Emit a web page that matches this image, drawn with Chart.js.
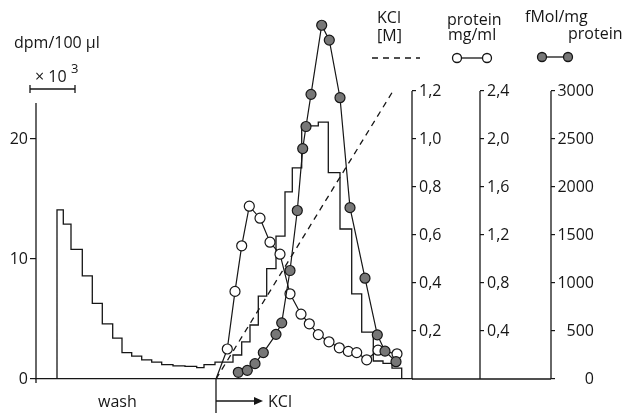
<!DOCTYPE html>
<html>
<head>
<meta charset="utf-8">
<script src="https://cdn.jsdelivr.net/npm/chart.js@4.4.1/dist/chart.umd.min.js"></script>
<style>
  html, body { margin: 0; padding: 0; background: #fff; }
  canvas { display: block; }
</style>
</head>
<body>
<canvas id="chart" width="634" height="413"></canvas>
<script>
// x = position along the elution, one unit ~ one fraction
const kclStart = 18.0;

// dpm/100 ul (x 10^3), step histogram: left edge of each fraction, value
const dpmX = [2.1, 2.1, 2.73, 3.5, 4.63, 5.63, 6.63, 7.67, 8.6, 9.57, 10.57, 11.57, 12.57, 13.7, 14.9, 16.07, 16.8, 17.9,
  19.7, 20.57, 21.4, 22.23, 23.07, 24.0, 24.9, 25.63, 26.57, 28.23, 29.23, 30.4, 31.57, 32.57, 33.73, 34.7, 35.6, 36.57];
const dpmY = [0, 14.1, 12.9, 10.8, 8.6, 6.3, 4.6, 3.4, 2.2, 1.9, 1.6, 1.4, 1.2, 1.1, 1.05, 0.95, 1.2, 1.4,
  2.0, 3.1, 4.5, 6.9, 9.2, 11.9, 15.6, 17.6, 21.1, 21.4, 17.2, 12.5, 7.1, 3.9, 1.5, 1.3, 0.9, 0];

// protein mg/ml (open circles)
const proteinX = [18.0, 19.13, 19.9, 20.57, 21.33, 22.4, 23.4, 24.4, 25.4, 26.5, 27.33, 28.23, 29.3, 30.33, 31.23, 32.07, 33.07, 34.2, 36.1];
const proteinY = [0, 0.25, 0.73, 1.11, 1.44, 1.34, 1.14, 1.04, 0.71, 0.54, 0.46, 0.37, 0.31, 0.26, 0.23, 0.22, 0.16, 0.24, 0.21];

// fMol/mg protein (filled circles)
const fmolX = [20.23, 21.13, 21.9, 22.73, 24.0, 24.57, 25.4, 26.13, 26.67, 27.0, 27.5, 28.57, 29.33, 30.4, 31.4, 32.9, 34.13, 34.9, 36.0];
const fmolY = [70, 90, 160, 275, 465, 585, 1130, 1755, 2400, 2630, 2965, 3685, 3530, 2930, 1785, 1050, 460, 290, 180];

// KCl gradient [M]
const kclX = [kclStart, 35.7];
const kclY = [0, 1.2];

const dpmTicks = [0, 10, 20];
const kclTicks = [0.2, 0.4, 0.6, 0.8, 1.0, 1.2];
const proteinTicks = [0.4, 0.8, 1.2, 1.6, 2.0, 2.4];
const fmolTicks = [0, 500, 1000, 1500, 2000, 2500, 3000];

const ink = "#161616";
const fontFam = "'Open Sans', sans-serif";
const comma = (v) => Number(v).toFixed(1).replace(".", ",");
const plain = (v) => String(v);
const pts = (xs, ys) => xs.map((x, i) => ({ x: x, y: ys[i] }));
const setTicks = (list) => (s) => { s.ticks = list.map((v) => ({ value: v })); };
const last = (a) => a[a.length - 1];

Chart.defaults.font.family = fontFam;
Chart.defaults.font.size = 16;
Chart.defaults.color = ink;

// axis lines (only up to the top tick), titles, legend keys, arrow
const decor = {
  id: "decor",
  afterDraw(chart) {
    const { ctx, chartArea, scales } = chart;
    const base = chartArea.bottom;
    ctx.save();
    ctx.strokeStyle = ink;
    ctx.fillStyle = ink;
    ctx.lineWidth = 1.3;
    const seg = (x1, y1, x2, y2) => { ctx.beginPath(); ctx.moveTo(x1, y1); ctx.lineTo(x2, y2); ctx.stroke(); };
    const dot = (x, y, fill) => {
      ctx.beginPath(); ctx.arc(x, y, 4.5, 0, Math.PI * 2);
      ctx.fillStyle = fill; ctx.fill(); ctx.stroke(); ctx.fillStyle = ink;
    };

    seg(scales.y.right, scales.y.getPixelForValue(23), scales.y.right, base + 4);
    seg(scales.kcl.left, scales.kcl.getPixelForValue(last(kclTicks)), scales.kcl.left, base);
    seg(scales.protein.left, scales.protein.getPixelForValue(last(proteinTicks)), scales.protein.left, base);
    seg(scales.fmol.left, scales.fmol.getPixelForValue(last(fmolTicks)), scales.fmol.left, base);

    // baseline runs on under the right-hand axes
    seg(chartArea.right, base, scales.fmol.left, base);

    // left axis title
    ctx.font = "16px " + fontFam;
    ctx.fillText("dpm/100 \u00b5l", 14, 48);
    ctx.fillText("\u00d7 10", 35, 82);
    ctx.font = "13px " + fontFam;
    ctx.fillText("3", 71, 73);
    seg(30, 89, 75, 89);
    seg(30, 85, 30, 93);
    seg(75, 85, 75, 93);

    // right-hand titles
    ctx.font = "16px " + fontFam;
    ctx.fillText("KCl", 377, 23);
    ctx.fillText("[M]", 377, 41);
    ctx.fillText("protein", 447, 25);
    ctx.fillText("mg/ml", 448, 40);
    ctx.fillText("fMol/mg", 525, 22);
    ctx.fillText("protein", 568, 39);

    // legend keys
    ctx.setLineDash([6, 5]);
    seg(372, 58, 420, 58);
    ctx.setLineDash([]);
    seg(457, 58, 487, 58);
    dot(457, 58, "#fff");
    dot(487, 58, "#fff");
    seg(542, 57, 568, 57);
    dot(542, 57, "#777");
    dot(568, 57, "#777");

    // wash / KCl marks under the axis
    ctx.fillText("wash", 98, 407);
    const kx = scales.x.getPixelForValue(kclStart);
    seg(kx, base, kx, 413);
    seg(kx, 401, kx + 40, 401);
    ctx.beginPath();
    ctx.moveTo(kx + 38, 397);
    ctx.lineTo(kx + 47, 401);
    ctx.lineTo(kx + 38, 405);
    ctx.closePath();
    ctx.fill();
    ctx.fillText("KCl", kx + 52, 407);
    ctx.restore();
  }
};

const rightAxis = (max, list, width, fmt, align) => ({
  type: "linear",
  position: "right",
  min: 0,
  max: max,
  afterBuildTicks: setTicks(list),
  afterFit: (s) => { s.width = width; },
  grid: { drawOnChartArea: false, tickLength: 4, color: ink, lineWidth: 1.2 },
  border: { display: false },
  ticks: { autoSkip: false, padding: 3, callback: fmt, crossAlign: align }
});

new Chart(document.getElementById("chart"), {
  type: "line",
  data: {
    datasets: [
      {
        label: "fMol/mg protein",
        data: pts(fmolX, fmolY),
        yAxisID: "fmol",
        borderColor: ink,
        borderWidth: 1.2,
        pointRadius: 5,
        pointBackgroundColor: "#777",
        pointBorderColor: ink,
        pointBorderWidth: 1.2,
        clip: false
      },
      {
        label: "protein mg/ml",
        data: pts(proteinX, proteinY),
        yAxisID: "protein",
        borderColor: ink,
        borderWidth: 1.2,
        pointRadius: (c) => (c.dataIndex === 0 ? 0 : 5),
        pointBackgroundColor: "#fff",
        pointBorderColor: ink,
        pointBorderWidth: 1.2,
        clip: false
      },
      {
        label: "KCl [M]",
        data: pts(kclX, kclY),
        yAxisID: "kcl",
        borderColor: ink,
        borderWidth: 1.3,
        borderDash: [6, 5],
        pointRadius: 0,
        clip: false
      },
      {
        label: "dpm/100 \u00b5l",
        data: pts(dpmX, dpmY),
        yAxisID: "y",
        stepped: "before",
        borderColor: ink,
        borderWidth: 1.3,
        pointRadius: 0,
        clip: false
      }
    ]
  },
  options: {
    responsive: false,
    animation: false,
    layout: { padding: { top: 19, left: 0, right: 40, bottom: 0 } },
    plugins: { legend: { display: false }, tooltip: { enabled: false } },
    scales: {
      x: {
        type: "linear",
        min: 0,
        max: 37.6,
        ticks: { display: false },
        grid: { display: false },
        border: { color: ink, width: 1.3 },
        afterFit: (s) => { s.height = 34; }
      },
      y: {
        type: "linear",
        position: "left",
        min: 0,
        max: 30,
        afterBuildTicks: setTicks(dpmTicks),
        afterFit: (s) => { s.width = 36; },
        grid: { drawOnChartArea: false, tickLength: 6, color: ink, lineWidth: 1.2 },
        border: { display: false },
        ticks: { autoSkip: false, padding: 2 }
      },
      kcl: rightAxis(1.5, kclTicks, 68, comma, "near"),
      protein: rightAxis(3.0, proteinTicks, 71, comma, "near"),
      fmol: rightAxis(3750, fmolTicks, 43, plain, "far")
    }
  },
  plugins: [decor]
});
</script>
</body>
</html>
